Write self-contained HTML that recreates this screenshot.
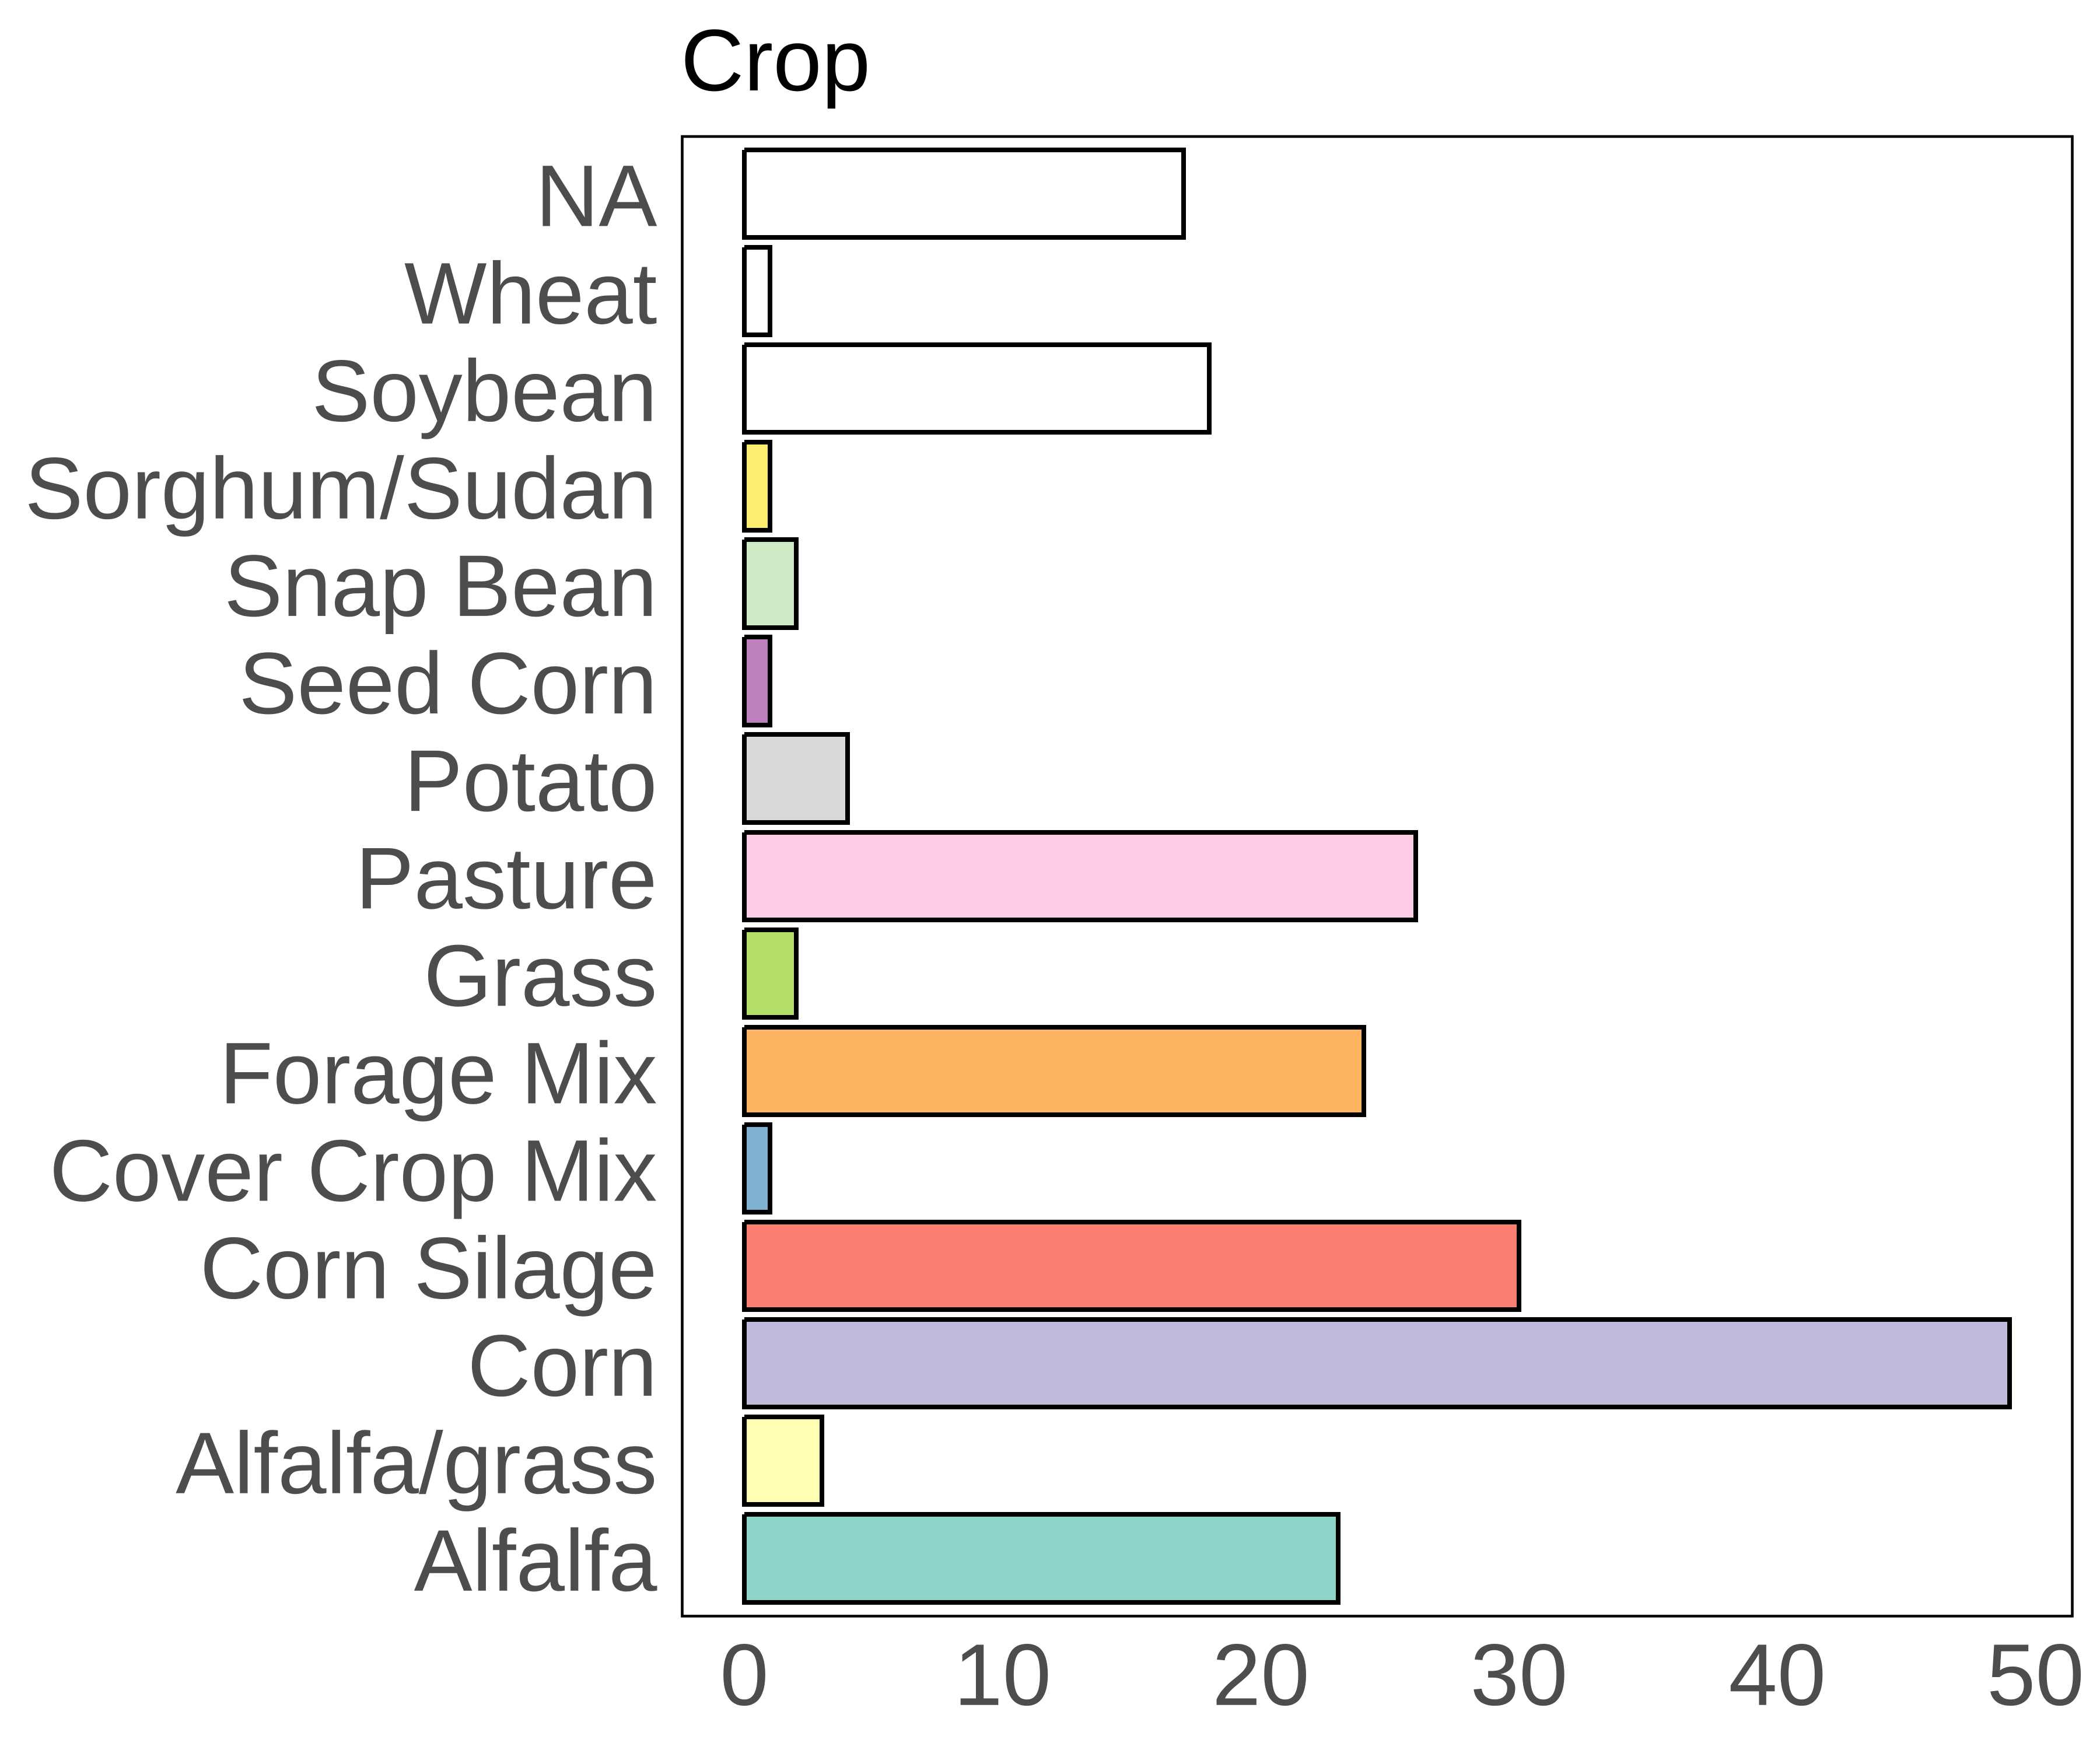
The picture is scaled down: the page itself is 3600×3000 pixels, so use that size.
<!DOCTYPE html>
<html lang="en">
<head>
<meta charset="utf-8">
<title>Crop</title>
<style>
html,body{margin:0;padding:0;background:#fff;}
svg{display:block;}
text{font-family:"Liberation Sans",Arial,sans-serif;}
</style>
</head>
<body>
<svg id="chart" xmlns="http://www.w3.org/2000/svg" width="3600" height="3000" viewBox="0 0 3600 3000">
  <rect x="0" y="0" width="3600" height="3000" fill="#ffffff"/>
  <text x="1167" y="155" font-size="150" fill="#000000">Crop</text>
  <g id="bars"></g>
  <g id="y-labels"></g>
  <g id="x-labels"></g>
  <rect x="1169.5" y="234" width="2383" height="2536.5" fill="none" stroke="#000000" stroke-width="4.6"/>
</svg>
<script>
// Data, listed from top row to bottom row
const categories = ["NA","Wheat","Soybean","Sorghum/Sudan","Snap Bean","Seed Corn","Potato","Pasture","Grass","Forage Mix","Cover Crop Mix","Corn Silage","Corn","Alfalfa/grass","Alfalfa"];
const counts = [17,1,18,1,2,1,4,26,2,24,1,30,49,3,23];
const fills = ["#FFFFFF","#FFFFFF","#FFFFFF","#FFED6F","#CCEBC5","#BC80BD","#D9D9D9","#FCCDE5","#B3DE69","#FDB462","#80B1D3","#FB8072","#BEBADA","#FFFFB3","#8DD3C7"];
const xTicks = [0,10,20,30,40,50];

const SVG_NS = "http://www.w3.org/2000/svg";
const xScale = function (v) { return 1276 + v * 44.27; };
const yCenter = function (i) { return 332 + i * 167.1; };
const BAR_HALF = 75.2;

const barsGroup = document.getElementById("bars");
const yGroup = document.getElementById("y-labels");
const xGroup = document.getElementById("x-labels");

categories.forEach(function (name, i) {
  const slug = name.toLowerCase().replace(/[^a-z0-9]+/g, "-");
  const x0 = Math.round(xScale(0));
  const x1 = Math.round(xScale(counts[i]));
  const yT = Math.round(yCenter(i) - BAR_HALF);
  const yB = Math.round(yCenter(i) + BAR_HALF);

  const fill = document.createElementNS(SVG_NS, "rect");
  fill.setAttribute("x", x0);
  fill.setAttribute("y", yT);
  fill.setAttribute("width", x1 - x0);
  fill.setAttribute("height", yB - yT);
  fill.setAttribute("fill", fills[i]);
  
  
  barsGroup.appendChild(fill);

  const outline = document.createElementNS(SVG_NS, "path");
  outline.setAttribute("d", "M" + x0 + " " + yT + "H" + x1 + "V" + yB + "H" + x0 + "V" + yT);
  outline.setAttribute("fill", "none");
  outline.setAttribute("stroke", "#000000");
  outline.setAttribute("stroke-width", "8");
  outline.setAttribute("stroke-linecap", "butt");
  outline.setAttribute("stroke-linejoin", "miter");
  
  
  barsGroup.appendChild(outline);

  const label = document.createElementNS(SVG_NS, "text");
  label.setAttribute("x", 1126.5);
  label.setAttribute("y", yCenter(i) + 55.5);
  label.setAttribute("text-anchor", "end");
  label.setAttribute("font-size", "150");
  label.setAttribute("fill", "#4D4D4D");
  
  
  label.textContent = name;
  yGroup.appendChild(label);
});

xTicks.forEach(function (t) {
  const label = document.createElementNS(SVG_NS, "text");
  label.setAttribute("x", xScale(t));
  label.setAttribute("y", 2922.7);
  label.setAttribute("text-anchor", "middle");
  label.setAttribute("font-size", "150");
  label.setAttribute("fill", "#4D4D4D");
  
  
  label.textContent = String(t);
  xGroup.appendChild(label);
});
</script>
</body>
</html>
